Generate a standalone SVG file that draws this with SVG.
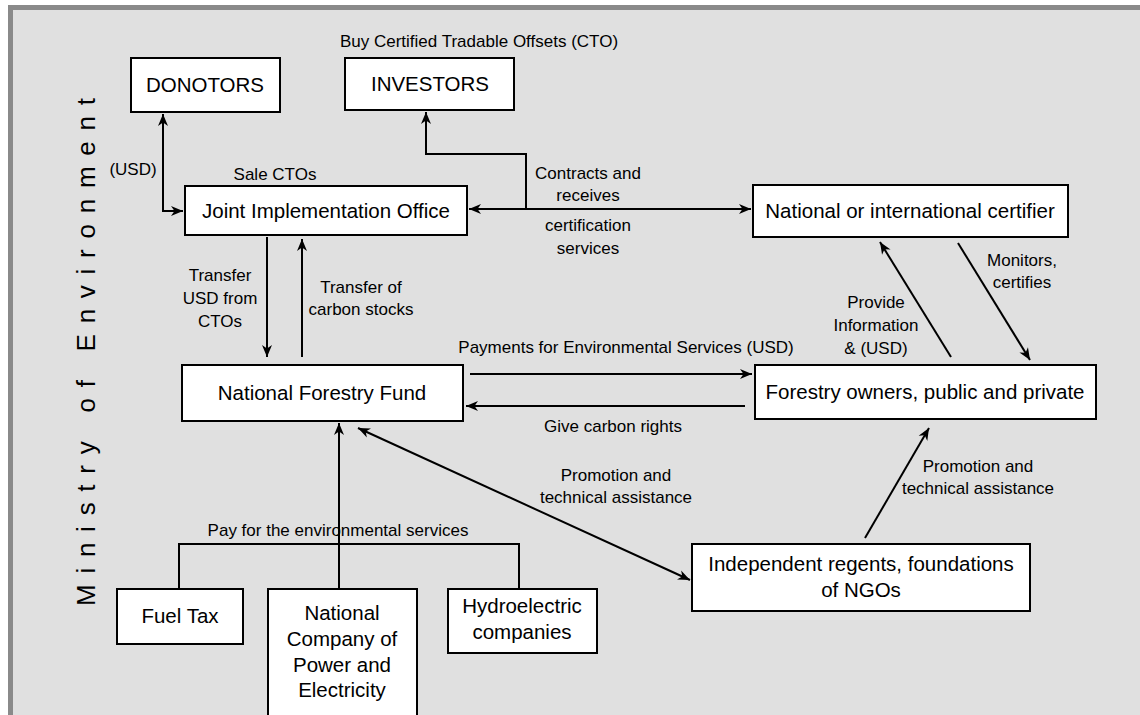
<svg xmlns="http://www.w3.org/2000/svg" width="1140" height="715" viewBox="0 0 1140 715">
<style>
.box{fill:#fff;stroke:#000;stroke-width:2}
.t{font-family:"Liberation Sans",Arial,sans-serif;font-size:20.5px;text-anchor:middle;fill:#000}
.l{font-family:"Liberation Sans",Arial,sans-serif;font-size:17px;text-anchor:middle;fill:#000}
.c{fill:none;stroke:#000;stroke-width:2}
.ah{marker-end:url(#arr)}
.ab{marker-start:url(#arr);marker-end:url(#arr)}
</style>
<defs>
<marker id="arr" markerUnits="userSpaceOnUse" markerWidth="14" markerHeight="12" viewBox="0 0 14 12" refX="12" refY="6" orient="auto-start-reverse">
<path d="M0,1 L12,6 L0,11 L3.5,6 z" fill="#000"/>
</marker>
</defs>
<rect x="0" y="0" width="1140" height="715" fill="#fff"/>
<rect x="8" y="5" width="1132" height="710" fill="#8a8a8a"/>
<rect x="13" y="10" width="1127" height="705" fill="#e0e0e0"/>

<text class="l" transform="translate(95,606) rotate(-90)" style="text-anchor:start;font-size:26px" textLength="508" lengthAdjust="spacing">Ministry of Environment</text>

<g id="connectors">
<path class="c ab" d="M163,114 V211 H183"/>
<path class="c ab" d="M469,209 H751"/>
<path class="c ah" d="M526,209 V154 H426 V112"/>
<path class="c ah" d="M267,237 V357"/>
<path class="c ah" d="M302,357 V239"/>
<path class="c ah" d="M470,374 H752"/>
<path class="c ah" d="M745,406 H466"/>
<path class="c ah" d="M951,357 L880,242"/>
<path class="c ah" d="M958,243 L1030,360"/>
<path class="c ab" d="M358,428 L690,580"/>
<path class="c ah" d="M865,538 L929,428"/>
<path class="c ah" d="M339,589 V423"/>
<path class="c" d="M179,589 V544 H519 V589"/>
</g>

<g id="labels">
<text class="l" x="479" y="47">Buy Certified Tradable Offsets (CTO)</text>
<text class="l" x="133" y="175">(USD)</text>
<text class="l" x="275" y="180">Sale CTOs</text>
<text class="l" x="588" y="179">Contracts and</text>
<text class="l" x="588" y="201">receives</text>
<text class="l" x="588" y="231">certification</text>
<text class="l" x="588" y="254">services</text>
<text class="l" x="220" y="281">Transfer</text>
<text class="l" x="220" y="304">USD from</text>
<text class="l" x="220" y="327">CTOs</text>
<text class="l" x="361" y="293">Transfer of</text>
<text class="l" x="361" y="315">carbon stocks</text>
<text class="l" x="626" y="353">Payments for Environmental Services (USD)</text>
<text class="l" x="613" y="432">Give carbon rights</text>
<text class="l" x="876" y="308">Provide</text>
<text class="l" x="876" y="331">Information</text>
<text class="l" x="876" y="354">&amp; (USD)</text>
<text class="l" x="1022" y="266">Monitors,</text>
<text class="l" x="1022" y="288">certifies</text>
<text class="l" x="616" y="481">Promotion and</text>
<text class="l" x="616" y="503">technical assistance</text>
<text class="l" x="978" y="472">Promotion and</text>
<text class="l" x="978" y="494">technical assistance</text>
<text class="l" x="338" y="536">Pay for the environmental services</text>
</g>

<g id="donotors"><rect class="box" x="131" y="58" width="149" height="54"/><text class="t" x="205" y="92">DONOTORS</text></g>
<g id="investors"><rect class="box" x="345" y="58" width="169" height="52"/><text class="t" x="430" y="91">INVESTORS</text></g>
<g id="jio"><rect class="box" x="185" y="186" width="282" height="49"/><text class="t" x="326" y="218">Joint Implementation Office</text></g>
<g id="certifier"><rect class="box" x="753" y="185" width="315" height="52"/><text class="t" x="910" y="218">National or international certifier</text></g>
<g id="nff"><rect class="box" x="182" y="365" width="281" height="56"/><text class="t" x="322" y="400">National Forestry Fund</text></g>
<g id="forestry"><rect class="box" x="755" y="365" width="341" height="54"/><text class="t" x="925" y="399">Forestry owners, public and private</text></g>
<g id="independent"><rect class="box" x="692" y="544" width="338" height="67"/><text class="t" x="861" y="571">Independent regents, foundations</text><text class="t" x="861" y="597">of NGOs</text></g>
<g id="fueltax"><rect class="box" x="117" y="589" width="126" height="55"/><text class="t" x="180" y="623">Fuel Tax</text></g>
<g id="ncpe"><rect class="box" x="268" y="589" width="149" height="140"/><text class="t" x="342" y="620">National</text><text class="t" x="342" y="646">Company of</text><text class="t" x="342" y="672">Power and</text><text class="t" x="342" y="697">Electricity</text></g>
<g id="hydro"><rect class="box" x="448" y="589" width="149" height="64"/><text class="t" x="522" y="613">Hydroelectric</text><text class="t" x="522" y="639">companies</text></g>
</svg>
